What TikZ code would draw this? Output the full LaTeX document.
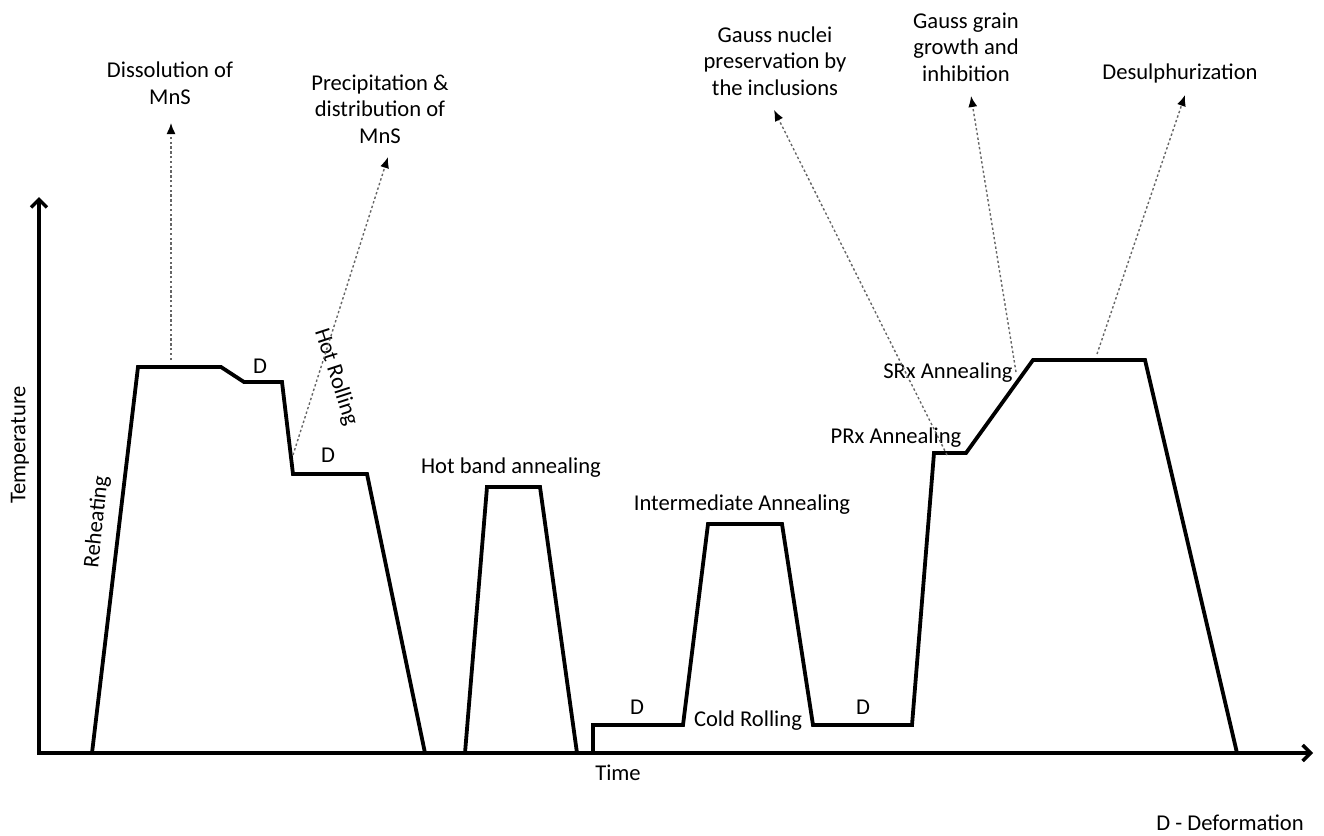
\documentclass[tikz,border=0pt]{standalone}
\usepackage{fontspec}
\setmainfont{Carlito}
\usetikzlibrary{arrows.meta}
\begin{document}
\begin{tikzpicture}[x=1pt,y=-1pt,
  trace/.style={line width=3.8pt, line join=miter},
  axisline/.style={line width=3.8pt, line join=miter},
  lbl/.style={font=\fontsize{22.6}{26.5}\selectfont, inner sep=0pt, align=center, text=black},
  ptr/.style={draw=black!60, line width=1.4pt, dash pattern=on 2.4pt off 2.4pt,
    -{Latex[length=11pt,width=9pt,color=black]}}
]
\useasboundingbox (0,0) rectangle (1324,835);

% axes
\coordinate (ytip) at (39,197);
\coordinate (origin) at (39,753);
\coordinate (xtip) at (1313,753);
\draw[axisline, {Straight Barb[length=8pt,width=16pt,line width=3.4pt]}-{Straight Barb[length=8pt,width=16pt,line width=3.4pt]}] (ytip) -- (origin) -- (xtip);

% temperature traces
\draw[trace] (92,753) -- (138,367) -- (221,367) -- (244,382) -- (282,382) -- (293,474) -- (367,474) -- (425,753);
\draw[trace] (465,753) -- (487,487) -- (540,487) -- (577,753);
\draw[trace] (593,753) -- (593,725) -- (683,725) -- (708,524) -- (782,524) -- (813,725) -- (912,725) -- (934,453) -- (966,453) -- (1033,360) -- (1145,360) -- (1237,753);

% labels
\node[lbl] (diss) at (170,83) {Dissolution of\\MnS};
\node[lbl] (prec) at (380,109) {Precipitation \&\\distribution of\\MnS};
\node[lbl] (gnuc) at (775,61) {Gauss nuclei\\preservation by\\the inclusions};
\node[lbl] (ggr) at (966,47) {Gauss grain\\growth and\\inhibition};
\node[lbl] (desul) at (1180,73) {Desulphurization};
\node[lbl, rotate=90] (temp) at (20,445) {Temperature};
\node[lbl, rotate=84] (reh) at (97,522) {Reheating};
\node[lbl, rotate=-72] (hr) at (336,377) {Hot Rolling};
\node[lbl] (d1) at (260,366) {D};
\node[lbl] (d2) at (328,455) {D};
\node[lbl] (d3) at (637,707) {D};
\node[lbl] (d4) at (863,707) {D};
\node[lbl] (hba) at (511,468) {Hot band annealing};
\node[lbl] (ia) at (742,505) {Intermediate Annealing};
\node[lbl] (cr) at (748,721) {Cold Rolling};
\node[lbl] (time) at (618,773) {Time};
\node[lbl] (prx) at (896,438) {PRx Annealing};
\node[lbl] (srx) at (948,373) {SRx Annealing};
\node[lbl] (defn) at (1230,823) {D - Deformation};

% pointers
\coordinate (s1) at (171,360); \coordinate (t1) at (171,123);
\coordinate (s2) at (293,455); \coordinate (t2) at (388,157);
\coordinate (s3) at (947,455); \coordinate (t3) at (774,110);
\coordinate (s4) at (1016,372); \coordinate (t4) at (971,96);
\coordinate (s5) at (1097,354); \coordinate (t5) at (1185,95);
\draw[ptr] (s1) -- (t1);
\draw[ptr] (s2) -- (t2);
\draw[ptr] (s3) -- (t3);
\draw[ptr] (s4) -- (t4);
\draw[ptr] (s5) -- (t5);
\end{tikzpicture}
\end{document}
